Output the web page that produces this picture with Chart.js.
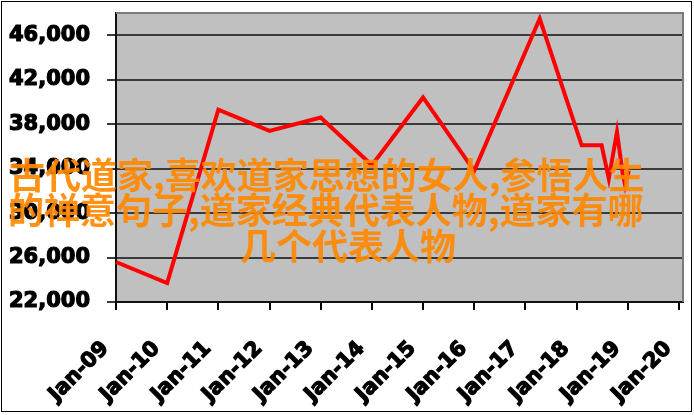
<!DOCTYPE html>
<html>
<head>
<meta charset="utf-8">
<script src="https://cdn.jsdelivr.net/npm/chart.js@4"></script>
<style>
  html, body { margin: 0; padding: 0; background: #fff; }
  #wrap { position: relative; width: 694px; height: 415px; overflow: hidden; }
  #frame { position: absolute; left: 1px; top: 1px; width: 689px; height: 409px; border: 1.5px solid #000; pointer-events: none; }
  .ov { position: absolute; white-space: nowrap; font-family: "Noto Sans CJK SC", sans-serif; font-weight: 700;
        font-size: 36px; line-height: 36px; color: rgba(255,136,0,0.92); }
</style>
</head>
<body>
<div id="wrap">
  <canvas id="c" width="694" height="415"></canvas>
  <div id="frame"></div>
  <div class="ov" style="left:9px; top:155px;">古代道家,喜欢道家思想的女人,参悟人生</div>
  <div class="ov" style="left:8px; top:190px;">的禅意句子,道家经典代表人物,道家有哪</div>
  <div class="ov" style="left:240px; top:226px;">几个代表人物</div>
</div>
<script>
// Data (x = year as decimal, y = value)
const dates  = [2009.0, 2010.0, 2011.0, 2012.0, 2013.0, 2014.0, 2015.0, 2016.0, 2017.28, 2018.1, 2018.49, 2018.63, 2018.79, 2018.9, 2018.95, 2019.02];
const values = [25600, 23700, 39300, 37400, 38600, 34300, 40400, 33800, 47500, 36100, 36100, 33100, 37300, 33600, 32500, 33800];
const xTickValues = [2009, 2010, 2011, 2012, 2013, 2014, 2015, 2016, 2017, 2018, 2019, 2020];
const xTickLabels = ['Jan-09','Jan-10','Jan-11','Jan-12','Jan-13','Jan-14','Jan-15','Jan-16','Jan-17','Jan-18','Jan-19','Jan-20'];
const yTickValues = [22000, 26000, 30000, 34000, 38000, 42000, 46000];

const points = dates.map((d, i) => ({ x: d, y: values[i] }));

const plotBg = {
  id: 'plotBg',
  beforeDraw(chart) {
    const { ctx, chartArea: a } = chart;
    ctx.save();
    ctx.fillStyle = '#c0c0c0';
    ctx.fillRect(a.left, a.top, a.right - a.left, a.bottom - a.top);
    ctx.restore();
  },
  afterDatasetsDraw(chart) {
    const { ctx, chartArea: a } = chart;
    ctx.save();
    ctx.strokeStyle = '#7a7a7a';
    ctx.lineWidth = 2;
    ctx.beginPath();
    ctx.moveTo(a.left, a.top);
    ctx.lineTo(a.right, a.top);
    ctx.lineTo(a.right, a.bottom);
    ctx.stroke();
    ctx.restore();
  }
};

const fontTick = { family: '"DejaVu Sans", sans-serif', size: 21, weight: 'bold' };

function zeroPad(s) { s.paddingTop = 0; s.paddingBottom = 0; s.paddingLeft = 0; s.paddingRight = 0; }

new Chart(document.getElementById('c'), {
  type: 'line',
  data: {
    datasets: [{
      data: points,
      borderColor: '#ff0000',
      borderWidth: 4,
      pointRadius: 0,
      tension: 0,
      fill: false,
      clip: false
    }]
  },
  options: {
    responsive: false,
    devicePixelRatio: 1,
    animation: false,
    layout: { padding: { top: 13, right: 11, left: 0, bottom: 0 } },
    plugins: { legend: { display: false }, tooltip: { enabled: false }, title: { display: false } },
    scales: {
      x: {
        type: 'linear',
        min: 2009,
        max: 2020.08,
        afterBuildTicks: (s) => { s.ticks = xTickValues.map(v => ({ value: v })); },
        afterFit: (s) => { s.height = 113; zeroPad(s); },
        ticks: {
          autoSkip: false,
          maxRotation: 45,
          minRotation: 45,
          padding: 16,
          color: '#000',
          textStrokeColor: '#000',
          textStrokeWidth: 1.2,
          font: fontTick,
          callback: (v, i) => xTickLabels[i] + '  '
        },
        grid: { drawOnChartArea: false, drawTicks: true, tickLength: 8, color: '#000', lineWidth: 2 },
        border: { display: true, color: '#111', width: 2 }
      },
      y: {
        min: 22000,
        max: 48000,
        afterBuildTicks: (s) => { s.ticks = yTickValues.map(v => ({ value: v })); },
        afterFit: (s) => { s.width = 116; zeroPad(s); },
        ticks: {
          padding: 17,
          color: '#000',
          textStrokeColor: '#000',
          textStrokeWidth: 1.2,
          font: fontTick,
          callback: (v) => v.toLocaleString('en-US')
        },
        grid: { drawTicks: true, tickLength: 9, color: '#3a3a3a', lineWidth: 2 },
        border: { display: true, color: '#111', width: 2 }
      }
    }
  },
  plugins: [plotBg]
});
</script>
</body>
</html>
